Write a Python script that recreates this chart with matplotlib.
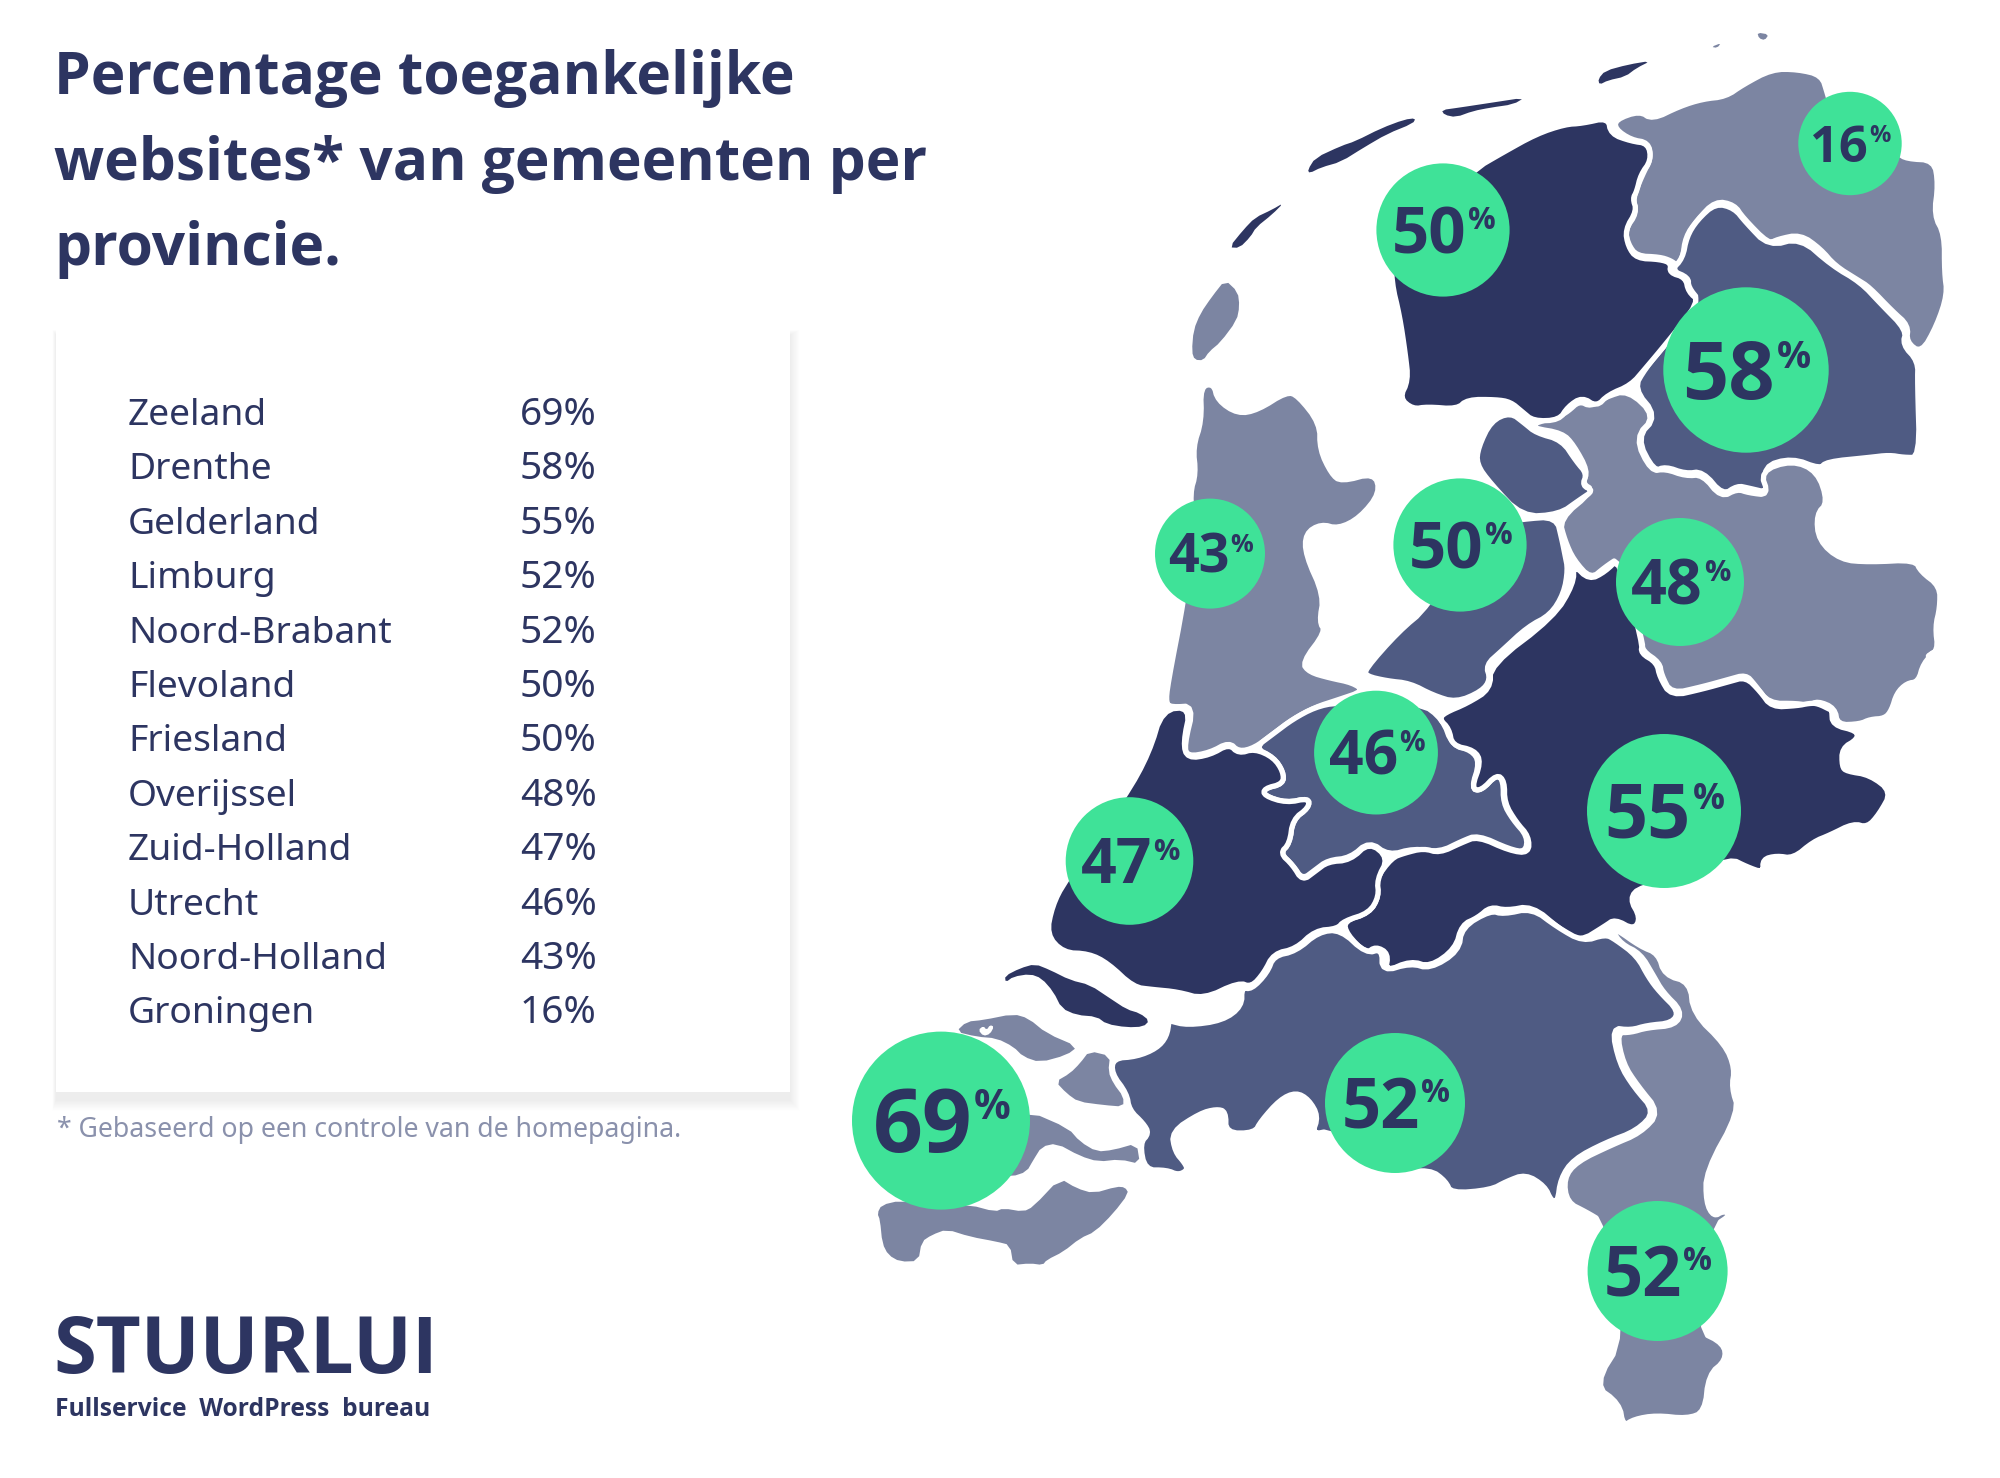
import numpy as np
import matplotlib
matplotlib.use("Agg")
import matplotlib.pyplot as plt
from matplotlib.patches import Polygon, Circle, Rectangle

# ---- data ----
provinces = ["Zeeland","Drenthe","Gelderland","Limburg","Noord-Brabant","Flevoland",
             "Friesland","Overijssel","Zuid-Holland","Utrecht","Noord-Holland","Groningen"]
percent = [69,58,55,52,52,50,50,48,47,46,43,16]

title_lines = ["Percentage toegankelijke","websites* van gemeenten per","provincie."]
footnote = "* Gebaseerd op een controle van de homepagina."
logo = "STUURLUI"
logo_sub = "Fullservice  WordPress  bureau"

NAVY="#2d3561"; MID="#4f5b83"; LIGHT="#7c85a2"; GREEN="#3fe298"; NOTE="#8a91ac"
FONT="Noto Sans"; BOLD="Open Sans"

# ---- outline helpers: traced in crop coordinates of the reference ----
def A(*p):
    a=np.array(p,float); return np.c_[1100+a[:,0]/1.742, a[:,1]/2.09]
def B(*p):
    a=np.array(p,float); return np.c_[840+a[:,0]/1.568, 700+a[:,1]/2.09]
def C(*p):
    a=np.array(p,float); return np.c_[1650+a[:,0]/3, 650+a[:,1]/3]
def D(*p):
    a=np.array(p,float); return np.c_[850+a[:,0]/3, 950+a[:,1]/3]

texel=A((218,585),(240,610),(243,640),(238,670),(210,715),(190,735),(180,753),(165,752),(160,735),(163,690),(175,655),(195,620))
vlieland=A((225,517),(250,480),(270,455),(300,438),(320,424),(300,448),(272,475),(262,495),(243,518))
terschelling=A((362,355),(375,330),(420,305),(445,295),(490,268),(530,250),(550,247),(545,258),(500,280),(460,308),(420,338),(385,350),(365,362))
ameland=A((595,230),(625,225),(680,215),(740,204),(720,218),(680,225),(650,232),(620,245),(600,240))
schier=A((868,165),(880,148),(920,135),(960,127),(935,142),(915,160),(885,168),(870,177))
rottum=A((1065,98),(1082,90),(1075,100))
bosch=A((1145,68),(1165,72),(1158,84),(1148,80))
friesland=A((885,246),(890,280),(925,295),(955,300),(960,335),(942,365),(935,400),(928,415),(935,440),(915,480),(920,515),(935,540),(975,542),(995,550),(992,570),(1020,580),(1025,610),(1045,630),(985,720),(950,770),(925,805),(885,825),(865,850),(840,830),(815,850),(800,878),(755,880),(735,860),(715,840),(690,835),(640,835),(622,855),(570,850),(545,855),(522,832),(537,795),(532,740),(522,660),(508,590),(508,520),(650,355),(700,320),(760,280),(810,260),(840,258))
groningen=A((898,250),(940,232),(962,250),(1010,222),(1050,207),(1090,202),(1120,177),(1170,145),(1215,145),(1257,157),(1267,195),(1280,250),(1390,320),(1405,332),(1453,335),(1460,385),(1453,450),(1471,490),(1471,570),(1476,615),(1458,680),(1431,738),(1405,715),(1408,680),(1380,650),(1340,600),(1320,585),(1280,555),(1255,520),(1220,490),(1180,500),(1165,510),(1120,455),(1105,428),(1072,420),(1040,460),(1020,495),(1015,540),(1005,555),(995,545),(975,537),(935,535),(920,510),(915,480),(935,445),(928,415),(945,365),(960,330),(955,298),(925,292),(898,270))
drenthe=A((1072,425),(1105,435),(1125,465),(1165,515),(1220,497),(1275,555),(1325,590),(1360,635),(1405,690),(1398,720),(1425,755),(1424,800),(1428,956),(1400,956),(1375,951),(1340,956),(1265,965),(1255,980),(1205,957),(1155,975),(1165,1030),(1130,1020),(1110,1015),(1085,1035),(1050,985),(1020,990),(985,975),(965,985),(935,915),(970,870),(930,812),(950,770),(985,720),(1045,630),(1025,600),(1025,580),(995,565),(1015,540),(1022,495),(1040,460))
flevo_n=A((715,862),(740,885),(760,905),(805,920),(830,965),(848,990),(840,1015),(860,1025),(835,1045),(800,1075),(735,1080),(680,1010),(656,970),(659,935),(681,880))
flevo_s=A((735,1085),(795,1080),(805,1130),(810,1160),(815,1190),(808,1240),(785,1285),(745,1310),(700,1360),(672,1390),(680,1420),(665,1445),(620,1468),(580,1453),(540,1428),(500,1423),(464,1413),(461,1400),(520,1320),(570,1270),(660,1100))
overijssel=np.vstack([
 A((755,885),(800,870),(815,860),(835,838),(855,850),(880,830),(920,815),(968,870),(932,915),(960,985),(985,980),(1020,995),(1050,992),(1082,1040),(1110,1022),(1130,1030),(1165,1035),(1150,985),(1205,962),(1250,985),(1268,1050),(1248,1075),(1252,1130),(1290,1170),(1340,1175),(1420,1170),(1430,1195),(1463,1225),(1463,1270),(1455,1310),(1460,1360),(1438,1375)),
 C((860,0),(820,40),(805,95),(770,100),(740,130),(725,180),(705,205),(660,208),(630,222)),
 A((1285,1515),(1280,1480),(1250,1465),(1235,1475),(1215,1470),(1165,1470),(1140,1430),(1125,1410),(1095,1420),(1050,1435),(995,1450),(978,1410),(975,1385),(945,1360),(945,1340),(905,1165),(880,1185),(855,1210),(825,1170),(810,1130),(800,1085),(860,1025),(840,1010),(850,985),(825,930),(805,905),(755,895))])
gelderland=np.vstack([
 A((825,1180),(852,1212),(880,1195),(905,1165),(945,1345),(942,1365),(970,1385),(975,1415),(995,1455),(1050,1440),(1095,1425),(1125,1415),(1150,1445),(1170,1478),(1215,1475),(1235,1470),(1250,1470),(1275,1485)),
 C((545,180),(548,225),(622,243),(622,268),(576,295),(576,350),(590,364),(660,375),(725,425),(688,492),(652,532),(610,520),(540,555),(490,575),(430,625),(380,617),(338,628),(340,668),(290,650),(240,625)),
 B((1340,370),(1255,390),(1238,415),(1255,455),(1245,480),(1215,458),(1200,472),(1160,505),(1130,480),(1085,430),(1045,440),(1020,432),(1000,455),(975,470),(965,520),(925,558),(895,545),(855,568),(860,530),(840,515),(825,530),(795,490),(790,462),(830,445),(845,410),(840,375),(865,330),(885,320),(915,310),(940,320),(975,298),(1000,285),(1050,315),(1080,320),(1080,285),(1060,255),(1042,215),(1042,170),(1030,155),(1005,190),(990,185),(1005,130),(995,105),(960,95),(955,60),(940,40)),
 A((600,1490),(640,1470),(680,1440),(680,1390),(790,1290),(825,1220))])
utrecht=B((650,100),(680,120),(695,150),(695,175),(665,185),(665,200),(700,215),(735,205),(735,225),(710,250),(705,300),(690,320),(710,345),(725,375),(745,355),(765,335),(800,330),(830,295),(860,325),(900,310),(940,318),(975,295),(1000,282),(1050,312),(1075,318),(1078,285),(1055,250),(1040,215),(1040,170),(1030,155),(1005,190),(990,185),(1003,130),(990,105),(960,95),(945,40),(910,5),(780,5),(745,15),(710,40),(680,70))
noord_holland=np.vstack([
 A((175,808),(198,802),(205,837),(240,865),(275,857),(325,819),(345,827),(383,885),(383,940),(403,990),(420,1007),(478,988),(488,1030),(453,1082),(415,1105),(385,1095),(358,1115),(358,1160),(390,1245),(382,1300),(393,1320),(352,1385),(365,1405),(400,1417),(440,1427),(460,1444)),
 B((780,0),(745,15),(710,40),(680,70),(650,100),(625,108),(610,88),(580,110),(545,118),(540,95),(555,12),(520,15)),
 A((115,1470),(118,1430),(147,1250),(162,1100),(157,1030),(167,990),(162,935),(177,880))])
zuid_holland=B((505,20),(550,15),(538,90),(545,122),(580,115),(610,92),(625,112),(650,102),(680,120),(695,150),(695,175),(665,185),(665,200),(700,215),(735,205),(735,225),(710,250),(705,300),(690,320),(710,345),(725,378),(745,358),(765,338),(800,335),(830,297),(860,330),(842,375),(845,410),(830,445),(790,462),(780,478),(745,482),(715,520),(680,530),(665,570),(645,600),(625,590),(570,625),(530,610),(490,605),(460,600),(420,550),(390,530),(350,528),(324,490),(333,430),(352,380),(448,200),(485,110))
goeree=D((465,78),(510,55),(555,42),(600,60),(660,90),(720,105),(780,145),(830,178),(870,190),(898,212),(880,230),(830,232),(770,222),(740,200),(680,195),(635,175),(610,125),(575,85),(540,72),(490,80),(467,97))
brabant=np.vstack([
 B((515,670),(545,680),(600,670),(630,640),(630,600),(645,605),(670,570),(680,535),(715,525),(750,485),(785,480),(825,530),(850,520),(850,568),(895,550),(925,562),(970,525),(975,475),(1020,440),(1040,448),(1085,435),(1125,475),(1165,505),(1200,490),(1215,500),(1250,535),(1268,580),(1285,610),(1315,650),(1305,675),(1265,680),(1240,690),(1210,685),(1222,760),(1245,810),(1278,860),(1250,900),(1200,925),(1150,960),(1130,1000),(1125,1050),(1115,1046),(1105,1016),(1075,991),(1045,1006),(1020,1024),(958,1031),(950,1006),(925,981),(870,990),(770,900),(740,908),(750,870),(735,835),(715,820),(690,835),(660,880),(650,905),(605,905),(605,860),(590,855)),
 D((1050,490),(965,545),(975,605),(1005,640),(1013,660),(985,675),(950,660),(885,660),(870,580),(897,550),(880,520),(838,480),(830,430),(785,370),(790,325),(860,320),(920,295),(950,260),(958,210))])
limburg=B((1218,480),(1255,515),(1283,530),(1293,575),(1333,590),(1338,655),(1388,720),(1403,770),(1398,810),(1410,860),(1358,985),(1358,1050),(1370,1080),(1385,1068),(1398,1075),(1370,1100),(1345,1318),(1386,1345),(1389,1380),(1362,1410),(1356,1488),(1328,1502),(1280,1495),(1245,1503),(1228,1518),(1222,1470),(1182,1432),(1230,1330),(1195,1090),(1170,1070),(1140,1050),(1135,1000),(1155,965),(1210,930),(1255,905),(1285,862),(1250,805),(1228,760),(1218,695),(1240,695),(1265,685),(1310,680),(1320,650),(1290,610),(1275,575),(1255,530),(1225,510),(1210,480))
schouwen=D((318,245),(350,215),(400,210),(490,192),(535,205),(590,250),(683,290),(650,315),(570,337),(520,320),(490,290),(440,265),(380,260))
tholen=D((718,303),(780,318),(775,365),(790,400),(820,440),(820,470),(760,465),(685,455),(650,430),(617,395),(660,370),(690,340))
beveland=D((540,485),(655,535),(690,575),(740,605),(790,600),(860,580),(870,642),(810,628),(745,635),(690,618),(620,580),(575,590),(550,630),(530,665),(485,680),(300,680),(300,500))
vlaanderen=D((82,790),(95,765),(150,752),(360,765),(435,785),(460,775),(520,785),(550,770),(630,685),(680,715),(730,730),(800,710),(825,712),(836,730),(790,790),(735,845),(690,865),(640,905),(590,930),(578,945),(540,940),(490,945),(480,885),(440,875),(360,860),(290,838),(245,855),(215,875),(205,933),(150,935),(115,915),(97,880),(90,810))
schouwen_mark=D((385,240),(400,228),(410,240),(420,225),(432,230),(420,252),(400,258))

bordered=[(groningen,LIGHT),(drenthe,MID),(overijssel,LIGHT),(friesland,NAVY),(noord_holland,LIGHT),
          (flevo_n,MID),(flevo_s,MID),(utrecht,MID),(gelderland,NAVY),(zuid_holland,NAVY),
          (brabant,MID),(limburg,LIGHT)]
islands=[(rottum,LIGHT),(bosch,LIGHT),(vlieland,NAVY),(terschelling,NAVY),(ameland,NAVY),(schier,NAVY),
         (texel,LIGHT),(goeree,NAVY),(schouwen,LIGHT),(tholen,LIGHT),(beveland,LIGHT),(vlaanderen,LIGHT),
         (schouwen_mark,"white")]

# bubble layout: province -> centre x, centre y, radius in pixels
bubbles={"Groningen":(1850,143.5,51.7),"Friesland":(1443,230,66.6),"Drenthe":(1746,370,82.7),
         "Noord-Holland":(1210,553.6,55),"Flevoland":(1460,545,66.6),"Overijssel":(1680,582,64),
         "Utrecht":(1376,752.6,61.9),"Gelderland":(1664,811,77),"Zuid-Holland":(1129.5,861,63.8),
         "Zeeland":(941,1120.6,89),"Noord-Brabant":(1395,1103,70),"Limburg":(1657.6,1271,70)}

def smooth(p,n=2):
    for _ in range(n):
        q=np.roll(p,-1,axis=0)
        out=np.empty((2*len(p),2))
        out[0::2]=0.75*p+0.25*q
        out[1::2]=0.25*p+0.75*q
        p=out
    return p

fig=plt.figure(figsize=(20,14.78),dpi=100)
ax=fig.add_axes([0,0,1,1]); ax.set_xlim(0,2000); ax.set_ylim(1478,0); ax.axis("off")
PT=72/100

# title
for t,y in zip(title_lines,[94,179.5,265]):
    ax.text(54.5,y,t,fontsize=42.2,fontweight="bold",color=NAVY,family=BOLD,va="baseline",ha="left")

# card with soft shadow
cx0,cx1,cy0,cy1=56,790,327,1092
for g in range(18,0,-1):
    ax.add_patch(Rectangle((cx0-g*0.2,cy0+8-g*0.3),cx1-cx0+g*0.75,cy1-cy0+g*0.9,fc="black",ec="none",alpha=0.004,zorder=1))
ax.add_patch(Rectangle((cx0,cy0),cx1-cx0,cy1-cy0,fc="white",ec="none",zorder=2))
for i,(n,v) in enumerate(zip(provinces,percent)):
    y=425+i*54.4
    ax.text(128,y,n,fontsize=26.8,color=NAVY,family=FONT,va="baseline",zorder=3)
    ax.text(520,y,f"{v}%",fontsize=28,color=NAVY,family=FONT,va="baseline",zorder=3)
ax.text(57,1137,footnote,fontsize=19.2,color=NOTE,family=FONT,va="baseline")

# logo
ax.text(53.5,1373,logo,fontsize=56,fontweight="bold",color=NAVY,family=BOLD,va="baseline")
ax.text(55,1416,logo_sub,fontsize=17.7,fontweight="bold",color=NAVY,family=BOLD,va="baseline")

# map
for p,c in bordered:
    ax.add_patch(Polygon(smooth(p),closed=True,fc=c,ec="white",lw=3.8,joinstyle="round",zorder=4))
for p,c in islands:
    ax.add_patch(Polygon(smooth(p,1),closed=True,fc=c,ec="none",zorder=4))
# bubbles
for n,v in zip(provinces,percent):
    x,y,r=bubbles[n]
    ax.add_patch(Circle((x,y),r,fc=GREEN,ec="none",zorder=5))
    ax.text(x+0.35*r,y+0.35*r,str(v),fontsize=r*PT*0.98,fontweight="bold",color=NAVY,family=BOLD,ha="right",va="baseline",zorder=6)
    ax.text(x+0.37*r,y-0.02*r,"%",fontsize=r*PT*0.46,fontweight="bold",color=NAVY,family=BOLD,ha="left",va="baseline",zorder=6)

fig.savefig("out.png",dpi=100,facecolor="white")
